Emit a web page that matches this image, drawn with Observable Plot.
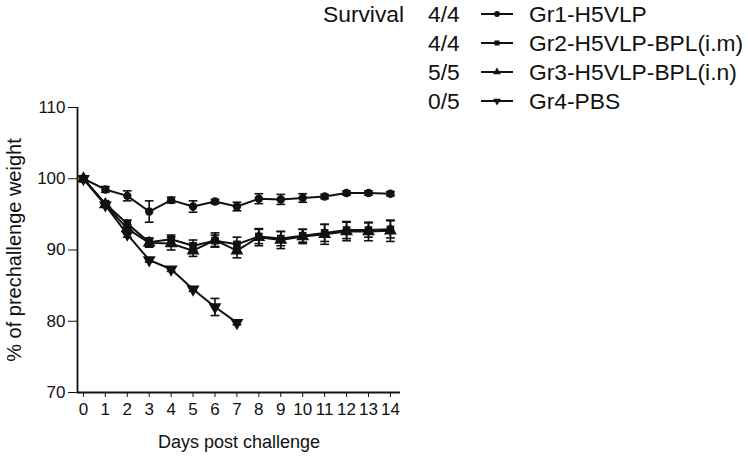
<!DOCTYPE html>
<html><head><meta charset="utf-8">
<script src="https://cdn.jsdelivr.net/npm/d3@7"></script>
<script src="https://cdn.jsdelivr.net/npm/@observablehq/plot@0.6"></script>
<style>
body{margin:0;background:#fff;}
#wrap{position:relative;width:748px;height:458px;overflow:hidden;}
.leg{position:absolute;font-family:"Liberation Sans",Arial,sans-serif;font-size:22.8px;color:#111;line-height:26px;white-space:nowrap;}
.legsym{position:absolute;}
</style></head><body><div id="wrap"></div>
<script>
const days = [0,1,2,3,4,5,6,7,8,9,10,11,12,13,14];
const groupNames = ["Gr1-H5VLP","Gr2-H5VLP-BPL(i.m)","Gr3-H5VLP-BPL(i.n)","Gr4-PBS"];
const survival = ["4/4","4/4","5/5","0/5"];
const symbols = ["circle","square","triangle","triangle"];
const rotations = [0,0,0,180];
const symbolR = [4.2,4.3,4.8,4.8];

const gr1Mean = [100,98.5,97.6,95.4,97.0,96.1,96.8,96.1,97.2,97.1,97.3,97.5,98.0,98.0,97.9];
const gr1Err  = [0,0.4,0.7,1.5,0.4,0.8,0.3,0.6,0.7,0.7,0.6,0.3,0.3,0.3,0.3];
const gr2Mean = [100,96.5,93.7,91.1,91.5,90.6,91.3,90.8,91.9,91.6,92.0,92.4,92.8,92.8,92.9];
const gr2Err  = [0,0.3,0.5,0.6,0.6,0.8,0.8,1.0,1.0,1.0,0.9,1.2,1.2,1.0,1.2];
const gr3Mean = [100,96.4,93.0,91.0,90.9,89.9,91.4,89.9,91.8,91.4,91.9,92.2,92.6,92.6,92.7];
const gr3Err  = [0,0.3,0.5,0.6,0.9,0.8,1.0,1.0,1.2,1.2,1.0,1.4,1.3,1.3,1.5];
const gr4Mean = [100,96.3,92.2,88.6,87.3,84.5,82.0,79.8];
const gr4Err  = [0,0.3,0.4,0.3,0.3,0.3,1.2,0.3];

const yTicks = [70,80,90,100,110];
const xDomain = [-0.27, 14.46];
const yDomain = [70, 110];

const means = [gr1Mean, gr2Mean, gr3Mean, gr4Mean];
const errs = [gr1Err, gr2Err, gr3Err, gr4Err];
const series = means.map((m, g) => m.map((v, i) => ({group: groupNames[g], day: days[i], mean: v, err: errs[g][i]})));

const ink = "#111";
const marks = [];
series.forEach((rows, g) => {
  marks.push(Plot.line(rows, {x: "day", y: "mean", stroke: ink, strokeWidth: 2}));
  const eb = rows.filter(d => d.err > 0);
  marks.push(Plot.ruleX(eb, {x: "day", y1: d => d.mean - d.err, y2: d => d.mean + d.err, stroke: ink, strokeWidth: 1.6}));
  marks.push(Plot.link(eb, {x1: d => d.day - 0.2, x2: d => d.day + 0.2, y1: d => d.mean + d.err, y2: d => d.mean + d.err, stroke: ink, strokeWidth: 1.6}));
  marks.push(Plot.link(eb, {x1: d => d.day - 0.2, x2: d => d.day + 0.2, y1: d => d.mean - d.err, y2: d => d.mean - d.err, stroke: ink, strokeWidth: 1.6}));
  marks.push(Plot.dot(rows, {x: "day", y: "mean", symbol: symbols[g], rotate: rotations[g], r: symbolR[g], fill: ink, stroke: "none"}));
});

const chart = Plot.plot({
  width: 748, height: 458,
  marginLeft: 77, marginRight: 348, marginTop: 107, marginBottom: 66,
  style: {fontFamily: "'Liberation Sans', Arial, sans-serif", color: ink, background: "white"},
  x: {domain: xDomain},
  y: {domain: yDomain},
  marks: [
    Plot.axisY({ticks: yTicks, tickSize: 9, tickPadding: 3, fontSize: 17, label: null, stroke: ink}),
    Plot.axisX({ticks: days, tickSize: 5, tickPadding: 5, fontSize: 17, label: null, tickFormat: d => String(d), stroke: ink}),
    Plot.ruleY([yDomain[0]], {stroke: ink, strokeWidth: 1.8}),
    Plot.ruleX([xDomain[0]], {stroke: ink, strokeWidth: 1.8}),
    Plot.text(["% of prechallenge weight"], {frameAnchor: "left", textAnchor: "middle", lineAnchor: "middle", dx: -63, dy: 0, rotate: -90, fontSize: 20, fill: ink}),
    Plot.text(["Days post challenge"], {frameAnchor: "bottom", textAnchor: "middle", lineAnchor: "middle", dy: 50, fontSize: 18, fill: ink}),
    ...marks
  ]
});

const wrap = document.getElementById("wrap");
wrap.appendChild(chart);

// Legend (survival + symbols)
const rowY = [14, 43, 72, 101];
function addText(txt, left, cy) {
  const d = document.createElement("div");
  d.className = "leg";
  d.textContent = txt;
  d.style.left = left + "px";
  d.style.top = (cy - 13) + "px";
  wrap.appendChild(d);
}
addText("Survival", 323, rowY[0]);
groupNames.forEach((name, g) => {
  addText(survival[g], 428, rowY[g]);
  addText(name, 529, rowY[g]);
  const sym = d3.create("svg").attr("class", "legsym").attr("width", 36).attr("height", 14)
    .style("left", "479px").style("top", (rowY[g] - 7) + "px");
  sym.append("line").attr("x1", 2).attr("x2", 34).attr("y1", 7).attr("y2", 7).attr("stroke", ink).attr("stroke-width", 2);
  const symType = {circle: d3.symbolCircle, square: d3.symbolSquare, triangle: d3.symbolTriangle}[symbols[g]];
  sym.append("path").attr("d", d3.symbol(symType, 26)()).attr("fill", ink)
    .attr("transform", `translate(18,7) rotate(${rotations[g]})`);
  wrap.appendChild(sym.node());
});
</script>
</body></html>
